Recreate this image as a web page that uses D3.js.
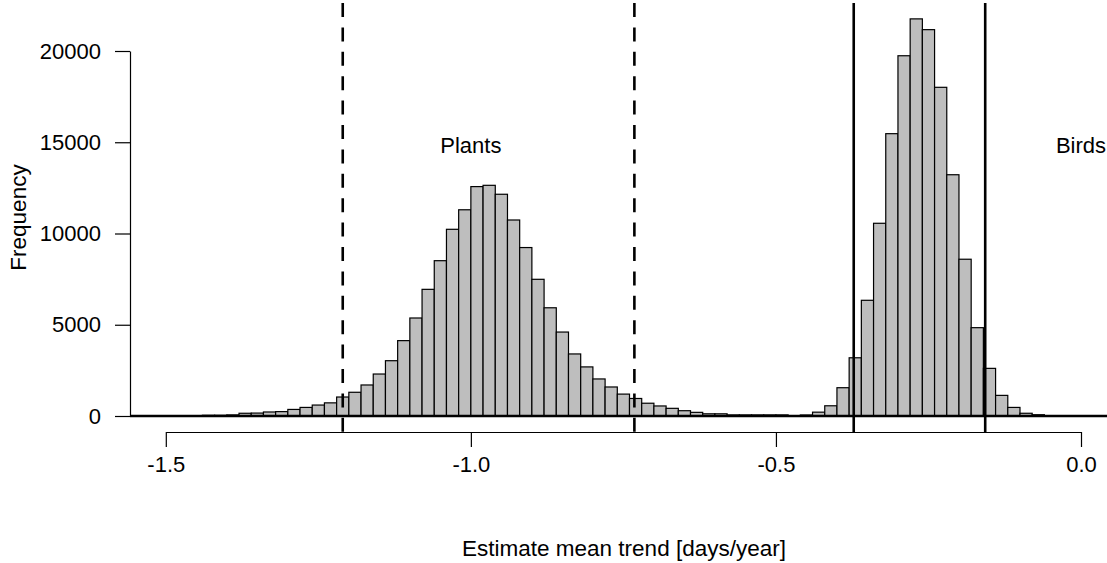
<!DOCTYPE html>
<html>
  <head>
    <meta charset="UTF-8" />
    <title>Estimate mean trend</title>
    <style>
      body { margin: 0; background: #fff; }
      svg { display: block; font-family: "Liberation Sans", Arial, sans-serif; }
    </style>
  </head>
  <body>
    <svg id="chart"></svg>

    <script src="https://d3js.org/d3.v7.min.js"></script>
    <script>
      // histogram bins are 0.02 wide
      const binWidth = 0.02;

      // plants: first bin starts at -1.44
      const plantStart = -1.44;
      const plantCounts = [
        40, 40, 60, 150, 160, 220, 240, 360, 470, 600,
        720, 1040, 1300, 1700, 2300, 3030, 4130, 5370, 6940, 8510,
        10230, 11300, 12570, 12640, 12150, 10740, 9230, 7490, 5930, 4600,
        3400, 2690, 2030, 1590, 1200, 960, 700, 550, 420, 290,
        200, 120, 120, 60, 60, 60, 60, 60
      ];

      // birds: first bin starts at -0.46
      const birdStart = -0.46;
      const birdCounts = [
        55, 210, 560, 1550, 3190, 6340, 10560, 15470, 19740, 21760,
        21170, 18010, 13220, 8590, 4840, 2610, 1130, 470, 150, 70
      ];

      // interval limits (dashed = plants, solid = birds)
      const plantLimits = [-1.21, -0.732];
      const birdLimits = [-0.3725, -0.157];

      const groupNames = ["Plants", "Birds"];
      const groupLabelX = [-1.0, 0.0];
      const groupLabelY = [15000, 15000];

      const xTicks = [-1.5, -1.0, -0.5, 0.0];
      const yTicks = [0, 5000, 10000, 15000, 20000];

      const width = 1107, height = 563;
      const svg = d3.select("#chart").attr("width", width).attr("height", height);

      // scales: axis lines run from first to last tick, like R
      const x = d3.scaleLinear().domain([-1.5, 0]).range([165.8, 1081]);
      const y = d3.scaleLinear().domain([0, 20000]).range([416, 51]);

      // plot region (R's usr box)
      const plotLeft = 130, plotRight = 1118, plotTop = 3, plotBottom = 432;

      function toBins(start, counts) {
        return counts.map((c, i) => ({ x0: start + i * binWidth, x1: start + (i + 1) * binWidth, n: c }));
      }
      const bins = toBins(plantStart, plantCounts).concat(toBins(birdStart, birdCounts));

      svg.append("g")
        .selectAll("rect")
        .data(bins)
        .join("rect")
        .attr("x", d => x(d.x0))
        .attr("width", d => x(d.x1) - x(d.x0))
        .attr("y", d => y(d.n))
        .attr("height", d => y(0) - y(d.n))
        .attr("fill", "#bebebe")
        .attr("stroke", "#000")
        .attr("stroke-width", 1.2);

      // zero line
      svg.append("line")
        .attr("x1", plotLeft).attr("x2", plotRight)
        .attr("y1", y(0)).attr("y2", y(0))
        .attr("stroke", "#000")
        .attr("stroke-width", 2.5);

      // interval lines
      svg.append("g")
        .selectAll("line")
        .data(plantLimits)
        .join("line")
        .attr("x1", d => x(d)).attr("x2", d => x(d))
        .attr("y1", plotTop).attr("y2", plotBottom)
        .attr("stroke", "#000")
        .attr("stroke-width", 2.6)
        .attr("stroke-dasharray", "14,10.4");

      svg.append("g")
        .selectAll("line")
        .data(birdLimits)
        .join("line")
        .attr("x1", d => x(d)).attr("x2", d => x(d))
        .attr("y1", plotTop).attr("y2", plotBottom)
        .attr("stroke", "#000")
        .attr("stroke-width", 2.6);

      // group labels
      svg.append("g")
        .selectAll("text")
        .data(groupNames)
        .join("text")
        .attr("x", (d, i) => x(groupLabelX[i]))
        .attr("y", (d, i) => y(groupLabelY[i]) + 3)
        .attr("dy", "0.35em")
        .attr("text-anchor", "middle")
        .style("font-size", "22px")
        .text(d => d);

      // axes (plain hyphen for negatives, as in the original)
      const xAxis = svg.append("g")
        .attr("transform", `translate(0,${plotBottom})`)
        .call(d3.axisBottom(x).tickValues(xTicks).tickFormat(d => d.toFixed(1))
          .tickSizeInner(15).tickSizeOuter(0).tickPadding(9));

      const yAxis = svg.append("g")
        .attr("transform", `translate(${plotLeft},0)`)
        .call(d3.axisLeft(y).tickValues(yTicks).tickFormat(d3.format("d"))
          .tickSizeInner(15).tickSizeOuter(0).tickPadding(14));

      [xAxis, yAxis].forEach(g => {
        g.selectAll("path, line").attr("stroke", "#000").attr("stroke-width", 1.2);
        g.selectAll("text").style("font-size", "22px").attr("fill", "#000")
          .style("font-family", "'Liberation Sans', Arial, sans-serif");
      });

      // axis titles
      svg.append("text")
        .attr("x", (plotLeft + plotRight) / 2)
        .attr("y", 548)
        .attr("dy", "0.35em")
        .attr("text-anchor", "middle")
        .style("font-size", "22.5px")
        .text("Estimate mean trend [days/year]");

      svg.append("text")
        .attr("transform", `translate(18,${(plotTop + plotBottom) / 2}) rotate(-90)`)
        .attr("dy", "0.35em")
        .attr("text-anchor", "middle")
        .style("font-size", "22.5px")
        .text("Frequency");
    </script>
  </body>
</html>
